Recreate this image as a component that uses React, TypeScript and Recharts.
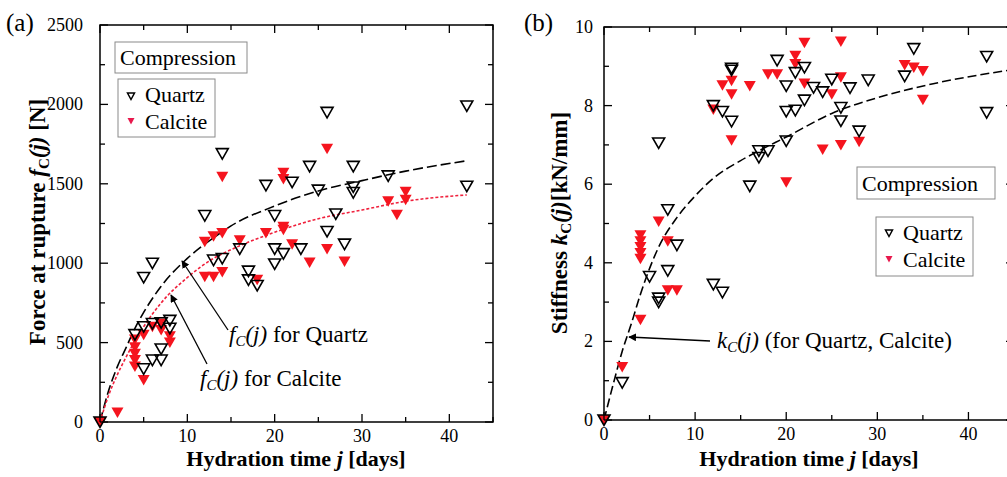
import { ScatterChart, Scatter, XAxis, YAxis, ReferenceArea } from "recharts"

const FONT = "'Liberation Serif', 'Times New Roman', serif"
const RED = "#f5141e"
const RED_FIT = "#f0203c"

// ============ (a) force at rupture [N] ============
const quartzForce = [
  { j: 0, v: 0 }, { j: 4, v: 550 }, { j: 5, v: 600 }, { j: 5, v: 910 }, { j: 5, v: 335 },
  { j: 6, v: 1000 }, { j: 6, v: 620 }, { j: 6, v: 390 }, { j: 7, v: 625 }, { j: 7, v: 460 },
  { j: 7, v: 390 }, { j: 8, v: 640 }, { j: 8, v: 590 }, { j: 12, v: 1300 }, { j: 13, v: 1020 },
  { j: 14, v: 1690 }, { j: 14, v: 1030 }, { j: 16, v: 1090 }, { j: 17, v: 950 }, { j: 17, v: 895 },
  { j: 18, v: 860 }, { j: 19, v: 1490 }, { j: 20, v: 1300 }, { j: 20, v: 1090 }, { j: 20, v: 995 },
  { j: 21, v: 1060 }, { j: 22, v: 1510 }, { j: 23, v: 1090 }, { j: 24, v: 1610 }, { j: 25, v: 1460 },
  { j: 26, v: 1950 }, { j: 26, v: 1200 }, { j: 27, v: 1310 }, { j: 28, v: 1120 }, { j: 29, v: 1610 },
  { j: 29, v: 1480 }, { j: 29, v: 1445 }, { j: 33, v: 1550 }, { j: 42, v: 1990 }, { j: 42, v: 1485 },
]

const calciteForce = [
  { j: 0, v: 0 }, { j: 2, v: 60 }, { j: 4, v: 520 }, { j: 4, v: 470 }, { j: 4, v: 430 },
  { j: 4, v: 390 }, { j: 4, v: 350 }, { j: 5, v: 550 }, { j: 5, v: 265 }, { j: 6, v: 600 },
  { j: 7, v: 620 }, { j: 7, v: 580 }, { j: 8, v: 540 }, { j: 8, v: 500 }, { j: 12, v: 1135 },
  { j: 12, v: 915 }, { j: 13, v: 1170 }, { j: 13, v: 915 }, { j: 14, v: 1190 }, { j: 14, v: 945 },
  { j: 14, v: 1545 }, { j: 16, v: 1145 }, { j: 18, v: 895 }, { j: 19, v: 1190 }, { j: 21, v: 1570 },
  { j: 21, v: 1530 }, { j: 21, v: 1230 }, { j: 21, v: 1210 }, { j: 22, v: 1120 }, { j: 24, v: 1005 },
  { j: 26, v: 1720 }, { j: 26, v: 1090 }, { j: 28, v: 1010 }, { j: 33, v: 1390 }, { j: 34, v: 1305 },
  { j: 35, v: 1450 }, { j: 35, v: 1400 },
]

// fitted curves
const quartzForceFit = [
  { j: 0, v: 0 }, { j: 1, v: 200 }, { j: 2, v: 350 }, { j: 3, v: 470 }, { j: 4, v: 590 },
  { j: 5, v: 690 }, { j: 7, v: 855 }, { j: 10, v: 1030 }, { j: 13, v: 1160 }, { j: 15, v: 1235 },
  { j: 20, v: 1360 }, { j: 25, v: 1455 }, { j: 30, v: 1520 }, { j: 35, v: 1580 }, { j: 42, v: 1645 },
]

const calciteForceFit = [
  { j: 0, v: 0 }, { j: 1, v: 170 }, { j: 2, v: 300 }, { j: 3, v: 410 }, { j: 4, v: 510 },
  { j: 5, v: 600 }, { j: 7, v: 750 }, { j: 10, v: 910 }, { j: 13, v: 1030 }, { j: 15, v: 1085 },
  { j: 20, v: 1195 }, { j: 25, v: 1280 }, { j: 30, v: 1335 }, { j: 35, v: 1390 }, { j: 42, v: 1430 },
]

// ============ (b) stiffness [kN/mm] ============
const quartzStiff = [
  { j: 0, v: 0 }, { j: 2, v: 0.95 }, { j: 5, v: 3.65 }, { j: 6, v: 7.05 }, { j: 6, v: 3.1 },
  { j: 6, v: 3.0 }, { j: 7, v: 5.35 }, { j: 7, v: 3.8 }, { j: 8, v: 4.45 }, { j: 12, v: 8.0 },
  { j: 12, v: 3.45 }, { j: 13, v: 7.85 }, { j: 13, v: 3.25 }, { j: 14, v: 8.95 }, { j: 14, v: 8.9 },
  { j: 14, v: 7.6 }, { j: 16, v: 5.95 }, { j: 17, v: 6.85 }, { j: 17, v: 6.68 }, { j: 18, v: 6.85 },
  { j: 19, v: 9.15 }, { j: 20, v: 8.5 }, { j: 20, v: 7.85 }, { j: 20, v: 7.1 }, { j: 21, v: 8.84 },
  { j: 21, v: 7.88 }, { j: 22, v: 8.97 }, { j: 22, v: 8.14 }, { j: 23, v: 8.46 }, { j: 24, v: 8.35 },
  { j: 25, v: 8.67 }, { j: 26, v: 7.95 }, { j: 26, v: 7.61 }, { j: 27, v: 8.45 }, { j: 28, v: 7.35 },
  { j: 29, v: 8.65 }, { j: 33, v: 8.75 }, { j: 34, v: 9.45 }, { j: 42, v: 9.25 }, { j: 42, v: 7.82 },
]

const calciteStiff = [
  { j: 0, v: 0 }, { j: 2, v: 1.35 }, { j: 4, v: 2.55 }, { j: 4, v: 4.7 }, { j: 4, v: 4.55 },
  { j: 4, v: 4.4 }, { j: 4, v: 4.25 }, { j: 4, v: 4.1 }, { j: 6, v: 5.05 }, { j: 7, v: 4.55 },
  { j: 7, v: 3.3 }, { j: 8, v: 3.3 }, { j: 12, v: 7.9 }, { j: 13, v: 8.52 }, { j: 14, v: 8.63 },
  { j: 14, v: 8.29 }, { j: 14, v: 7.12 }, { j: 16, v: 8.5 }, { j: 18, v: 8.8 }, { j: 19, v: 8.8 },
  { j: 20, v: 6.05 }, { j: 21, v: 9.27 }, { j: 21, v: 9.06 }, { j: 22, v: 9.6 }, { j: 22, v: 8.56 },
  { j: 24, v: 6.88 }, { j: 25, v: 8.29 }, { j: 26, v: 9.63 }, { j: 26, v: 8.72 }, { j: 26, v: 7.0 },
  { j: 28, v: 7.08 }, { j: 33, v: 9.03 }, { j: 34, v: 8.97 }, { j: 35, v: 8.88 }, { j: 35, v: 8.15 },
]

const stiffFit = [
  { j: 0, v: 0 }, { j: 1, v: 0.9 }, { j: 2, v: 1.75 }, { j: 3, v: 2.45 }, { j: 4, v: 3.2 },
  { j: 6, v: 4.4 }, { j: 8, v: 5.15 }, { j: 10, v: 5.7 }, { j: 12, v: 6.15 }, { j: 15, v: 6.6 },
  { j: 17, v: 6.85 }, { j: 20, v: 7.2 }, { j: 25, v: 7.8 }, { j: 30, v: 8.2 }, { j: 36, v: 8.55 },
  { j: 45, v: 8.92 },
]

const dayTicks = [0, 5, 10, 15, 20, 25, 30, 35, 40, 45]
const forceTicks = [0, 250, 500, 750, 1000, 1250, 1500, 1750, 2000, 2250, 2500]
const stiffTicks = [0, 1, 2, 3, 4, 5, 6, 7, 8, 9, 10]

// ============ Markers ============
const TriOpen = ({ cx, cy }: any) => (
  <path
    d={`M${cx - 6},${cy - 5}L${cx + 6},${cy - 5}L${cx},${cy + 5.5}Z`}
    fill="none"
    stroke="#000"
    strokeWidth={1.6}
  />
)

const TriFill = ({ cx, cy }: any) => (
  <path
    d={`M${cx - 6},${cy - 5}L${cx + 6},${cy - 5}L${cx},${cy + 5.5}Z`}
    fill={RED}
  />
)

const NoDot = () => <g />

// ============ Ticks (inside, all four sides) ============
const XTick = ({ x, y, payload, plotH }: any) => {
  const major = payload.value % 10 === 0
  const len = major ? 8 : 5
  return (
    <g>
      <line x1={x} y1={y} x2={x} y2={y - len} stroke="#000" strokeWidth={1.3} />
      <line x1={x} y1={y - plotH} x2={x} y2={y - plotH + len} stroke="#000" strokeWidth={1.3} />
      {major && (
        <text
          x={x}
          y={y + 20}
          textAnchor="middle"
          fontSize={18}
          fill="#000"
          style={{ fontFamily: FONT }}
        >
          {payload.value}
        </text>
      )}
    </g>
  )
}

const YTick = ({ x, y, payload, plotW, every, gap }: any) => {
  const major = Math.abs(payload.value / every - Math.round(payload.value / every)) < 1e-6
  const len = major ? 8 : 5
  return (
    <g>
      <line x1={x} y1={y} x2={x + len} y2={y} stroke="#000" strokeWidth={1.3} />
      <line x1={x + plotW} y1={y} x2={x + plotW - len} y2={y} stroke="#000" strokeWidth={1.3} />
      {major && (
        <text
          x={x - gap}
          y={y + 6}
          textAnchor="end"
          fontSize={18}
          fill="#000"
          style={{ fontFamily: FONT }}
        >
          {payload.value}
        </text>
      )}
    </g>
  )
}

// ============ Panels ============
// axes get 1px of room (a 0px axis is not drawn), margins are trimmed to match
function ForcePanel() {
  const m = { top: 25, right: 7, bottom: 54, left: 99 }
  const plotW = 500 - m.left - m.right - 1
  const plotH = 477 - m.top - m.bottom - 1
  return (
    <ScatterChart width={500} height={477} margin={m}>
      <XAxis
        type="number"
        dataKey="j"
        domain={[0, 45]}
        ticks={dayTicks}
        interval={0}
        height={1}
        axisLine={false}
        tickLine={false}
        tickSize={0}
        tickMargin={0}
        tick={(p: any) => <XTick {...p} plotH={plotH} />}
      />
      <YAxis
        type="number"
        dataKey="v"
        domain={[0, 2500]}
        ticks={forceTicks}
        interval={0}
        width={1}
        axisLine={false}
        tickLine={false}
        tickSize={0}
        tickMargin={0}
        tick={(p: any) => <YTick {...p} plotW={plotW} every={500} gap={17} />}
      />
      <ReferenceArea x1={0} x2={45} y1={0} y2={2500} fill="none" stroke="#000" strokeWidth={1.5} />
      <Scatter
        data={quartzForceFit}
        line={{ stroke: "#000", strokeWidth: 1.6, strokeDasharray: "10 4" }}
        lineJointType="monotoneX"
        shape={NoDot}
        isAnimationActive={false}
      />
      <Scatter
        data={calciteForceFit}
        line={{ stroke: RED_FIT, strokeWidth: 1.6, strokeDasharray: "3 2" }}
        lineJointType="monotoneX"
        shape={NoDot}
        isAnimationActive={false}
      />
      <Scatter data={calciteForce} shape={TriFill} isAnimationActive={false} />
      <Scatter data={quartzForce} shape={TriOpen} isAnimationActive={false} />
    </ScatterChart>
  )
}

function StiffPanel() {
  const m = { top: 27, right: 6, bottom: 56, left: 93 }
  const plotW = 510 - m.left - m.right - 1
  const plotH = 477 - m.top - m.bottom - 1
  return (
    <ScatterChart width={510} height={477} margin={m}>
      <XAxis
        type="number"
        dataKey="j"
        domain={[0, 45]}
        ticks={dayTicks}
        interval={0}
        height={1}
        axisLine={false}
        tickLine={false}
        tickSize={0}
        tickMargin={0}
        tick={(p: any) => <XTick {...p} plotH={plotH} />}
      />
      <YAxis
        type="number"
        dataKey="v"
        domain={[0, 10]}
        ticks={stiffTicks}
        interval={0}
        width={1}
        axisLine={false}
        tickLine={false}
        tickSize={0}
        tickMargin={0}
        tick={(p: any) => <YTick {...p} plotW={plotW} every={2} gap={11} />}
      />
      <ReferenceArea x1={0} x2={45} y1={0} y2={10} fill="none" stroke="#000" strokeWidth={1.5} />
      <Scatter
        data={stiffFit}
        line={{ stroke: "#000", strokeWidth: 1.6, strokeDasharray: "9 4" }}
        lineJointType="monotoneX"
        shape={NoDot}
        isAnimationActive={false}
      />
      <Scatter data={calciteStiff} shape={TriFill} isAnimationActive={false} />
      <Scatter data={quartzStiff} shape={TriOpen} isAnimationActive={false} />
    </ScatterChart>
  )
}

// ============ Labels, legends, annotations ============
const LegendTri = ({ x, y, filled }: { x: number; y: number; filled?: boolean }) => (
  <path
    d={`M${x - 3.5},${y - 3}L${x + 3.5},${y - 3}L${x},${y + 3.5}Z`}
    fill={filled ? "#e8184c" : "none"}
    stroke={filled ? "none" : "#000"}
    strokeWidth={1.5}
  />
)

function Overlay() {
  return (
    <svg
      width={1007}
      height={477}
      style={{ position: "absolute", left: 0, top: 0, pointerEvents: "none", fontFamily: FONT }}
      fill="#000"
    >
      <defs>
        <marker id="ah" viewBox="0 0 10 10" refX="9" refY="5" markerWidth="6" markerHeight="6" orient="auto">
          <path d="M0,0L10,5L0,10Z" fill="#000" />
        </marker>
      </defs>

      {/* panel (a) */}
      <text x={6} y={31} fontSize={25}>(a)</text>
      <text transform="translate(45,222) rotate(-90)" textAnchor="middle" fontSize={23} fontWeight="bold">
        Force at rupture <tspan fontStyle="italic">f</tspan>
        <tspan fontSize={15} dy={4}>C</tspan>
        <tspan fontStyle="italic" dy={-4}>(j)</tspan> [N]
      </text>
      <text x={296} y={466} textAnchor="middle" fontSize={22} fontWeight="bold">
        Hydration time <tspan fontStyle="italic">j</tspan> [days]
      </text>

      <rect x={115} y={42} width={132} height={31} fill="#fff" stroke="#8a8a8a" strokeWidth={1} />
      <text x={120} y={65} fontSize={22}>Compression</text>
      <rect x={118} y={79} width={97} height={58} fill="#fff" stroke="#8a8a8a" strokeWidth={1} />
      <LegendTri x={131} y={96} />
      <text x={145} y={102} fontSize={22}>Quartz</text>
      <LegendTri x={131} y={121} filled />
      <text x={145} y={129} fontSize={22}>Calcite</text>

      <line x1={228} y1={330} x2={182} y2={261} stroke="#000" strokeWidth={1.3} markerEnd="url(#ah)" />
      <line x1={207} y1={364} x2={171} y2={295} stroke="#000" strokeWidth={1.3} markerEnd="url(#ah)" />
      <text x={229} y={342} fontSize={23}>
        <tspan fontStyle="italic">f</tspan>
        <tspan fontStyle="italic" fontSize={15} dy={4}>C</tspan>
        <tspan fontStyle="italic" dy={-4}>(j)</tspan> for Quartz
      </text>
      <text x={200} y={386} fontSize={23}>
        <tspan fontStyle="italic">f</tspan>
        <tspan fontStyle="italic" fontSize={15} dy={4}>C</tspan>
        <tspan fontStyle="italic" dy={-4}>(j)</tspan> for Calcite
      </text>

      {/* panel (b) */}
      <text x={524} y={31} fontSize={25}>(b)</text>
      <text transform="translate(567,223) rotate(-90)" textAnchor="middle" fontSize={23} fontWeight="bold">
        Stiffness <tspan fontStyle="italic">k</tspan>
        <tspan fontSize={15} dy={4}>C</tspan>
        <tspan fontStyle="italic" dy={-4}>(j)</tspan>[kN/mm]
      </text>
      <text x={809} y={466} textAnchor="middle" fontSize={22} fontWeight="bold">
        Hydration time <tspan fontStyle="italic">j</tspan> [days]
      </text>

      <rect x={857} y={167} width={138} height={32} fill="#fff" stroke="#8a8a8a" strokeWidth={1} />
      <text x={862} y={191} fontSize={22}>Compression</text>
      <rect x={876} y={217} width={97} height={59} fill="#fff" stroke="#8a8a8a" strokeWidth={1} />
      <LegendTri x={889} y={233} />
      <text x={903} y={240} fontSize={22}>Quartz</text>
      <LegendTri x={889} y={259} filled />
      <text x={903} y={267} fontSize={22}>Calcite</text>

      <line x1={710} y1={341} x2={629} y2={337} stroke="#000" strokeWidth={1.3} markerEnd="url(#ah)" />
      <text x={717} y={348} fontSize={23}>
        <tspan fontStyle="italic">k</tspan>
        <tspan fontStyle="italic" fontSize={15} dy={4}>C</tspan>
        <tspan fontStyle="italic" dy={-4}>(j)</tspan> (for Quartz, Calcite)
      </text>
    </svg>
  )
}

export default function App() {
  return (
    <div
      style={{
        position: "absolute",
        left: 0,
        top: 0,
        width: 1007,
        height: 477,
        overflow: "hidden",
        background: "#fff",
      }}
    >
      <div style={{ position: "absolute", left: 0, top: 0 }}>
        <ForcePanel />
      </div>
      <div style={{ position: "absolute", left: 510, top: 0 }}>
        <StiffPanel />
      </div>
      <Overlay />
    </div>
  )
}
